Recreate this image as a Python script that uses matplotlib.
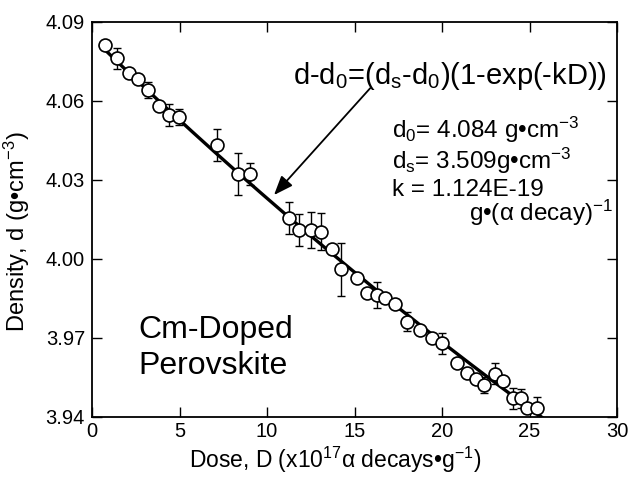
import numpy as np
import matplotlib
matplotlib.use('Agg')
import matplotlib.pyplot as plt

plt.rcParams['font.family'] = ['Liberation Sans', 'DejaVu Sans']
plt.rcParams['mathtext.fontset'] = 'custom'
plt.rcParams['mathtext.rm'] = 'Liberation Sans'
plt.rcParams['mathtext.it'] = 'Liberation Sans'
plt.rcParams['mathtext.bf'] = 'Liberation Sans:bold'

# Data (dose in 1e17 alpha decays/g, density in g/cm3)
dose = [0.74, 1.41, 2.12, 2.60, 3.20, 3.81, 4.38, 4.97, 7.15, 8.37, 9.05,
        11.27, 11.84, 12.50, 13.07, 13.70, 14.21, 15.16, 15.73, 16.29, 16.77,
        17.30, 18.00, 18.76, 19.43, 20.00, 20.85, 21.42, 21.93, 22.42, 23.03,
        23.47, 24.07, 24.51, 24.87, 25.44]
density = [4.0811, 4.0760, 4.0706, 4.0681, 4.0640, 4.0579, 4.0545, 4.0536,
           4.0431, 4.0321, 4.0321, 4.0153, 4.0108, 4.0108, 4.0102, 4.0035,
           3.9959, 3.9927, 3.9868, 3.9861, 3.9849, 3.9826, 3.9760, 3.9729,
           3.9697, 3.9678, 3.9602, 3.9564, 3.9541, 3.9520, 3.9562, 3.9536,
           3.9469, 3.9469, 3.9434, 3.9434]
err = [0, 0.004, 0, 0, 0.003, 0, 0.004, 0.003, 0.006, 0.008, 0.004,
       0.006, 0.006, 0.007, 0.007, 0, 0.010, 0, 0, 0.005, 0,
       0, 0.0035, 0, 0, 0.004, 0, 0, 0, 0.003, 0.004,
       0, 0.004, 0.0035, 0, 0.004]

# Fit parameters shown on the chart
d0 = 4.084
ds = 3.509
k = 1.124e-19

xticks = [0, 5, 10, 15, 20, 25, 30]
yticks = [3.94, 3.97, 4.00, 4.03, 4.06, 4.09]

fig = plt.figure(figsize=(6.28, 4.84), dpi=100)
ax = fig.add_axes([92/628, (484-416.5)/484, 525/628, 395/484])

Dfit = np.linspace(0.5, 26.5, 300)
ax.plot(Dfit, d0 - (d0 - ds) * (1 - np.exp(-k * Dfit * 1e17)),
        color='black', lw=2.4, zorder=2)

dose_a = np.array(dose)
dens_a = np.array(density)
err_a = np.array(err)
m = err_a > 0
ax.errorbar(dose_a[m], dens_a[m], yerr=err_a[m], fmt='none', ecolor='black',
            elinewidth=1.0, capsize=3, capthick=1.0, zorder=3)
ax.plot(dose_a, dens_a, 'o', ms=9.3, mfc='white', mec='black', mew=1.2,
        zorder=4)

ax.set_xlim(0, 30)
ax.set_ylim(3.94, 4.09)
ax.set_xticks(xticks)
ax.set_xticklabels([str(t) for t in xticks])
ax.set_yticks(yticks)
ax.set_yticklabels(['%.2f' % t for t in yticks])
ax.tick_params(direction='in', top=True, right=True, length=7, width=1.0,
               labelsize=14.5, pad=5)
ax.tick_params(axis='x', pad=4)
for s in ax.spines.values():
    s.set_linewidth(1.3)

T = ax.transAxes
ax.text(0.383, 0.842,
        r'd-d$_\mathregular{0}$=(d$_\mathregular{s}$-d$_\mathregular{0}$)(1-exp(-kD))',
        transform=T, fontsize=21, va='baseline', ha='left')
ax.text(0.571, 0.706, r'd$_\mathregular{0}$= 4.084 g•cm$^\mathregular{-3}$',
        transform=T, fontsize=17.5, va='baseline', ha='left')
ax.text(0.571, 0.627, r'd$_\mathregular{s}$= 3.509g•cm$^\mathregular{-3}$',
        transform=T, fontsize=17.5, va='baseline', ha='left')
ax.text(0.571, 0.558, 'k = 1.124E-19',
        transform=T, fontsize=17.5, va='baseline', ha='left')
ax.text(0.994, 0.495, r'g•(α decay)$^\mathregular{-1}$',
        transform=T, fontsize=17.5, va='baseline', ha='right')

ax.text(0.0876, 0.199, 'Cm-Doped', transform=T, fontsize=23, va='baseline')
ax.text(0.0876, 0.108, 'Perovskite', transform=T, fontsize=23, va='baseline')

ax.annotate('', xy=(10.4, 4.0241), xytext=(15.9, 4.0647),
            arrowprops=dict(arrowstyle='-|>,head_length=0.9,head_width=0.35',
                            color='black', lw=1.3, mutation_scale=13,
                            shrinkA=0, shrinkB=0))

fig.text(335/628, (484-468)/484,
         r'Dose, D (x10$^\mathregular{17}$α decays•g$^\mathregular{-1}$)',
         fontsize=16.5, ha='center', va='baseline')
fig.text(17/628, (484-232)/484, r'Density, d (g•cm$^\mathregular{-3}$)',
         fontsize=17, ha='center', va='center', rotation=90)

fig.savefig('out.png', dpi=100)
